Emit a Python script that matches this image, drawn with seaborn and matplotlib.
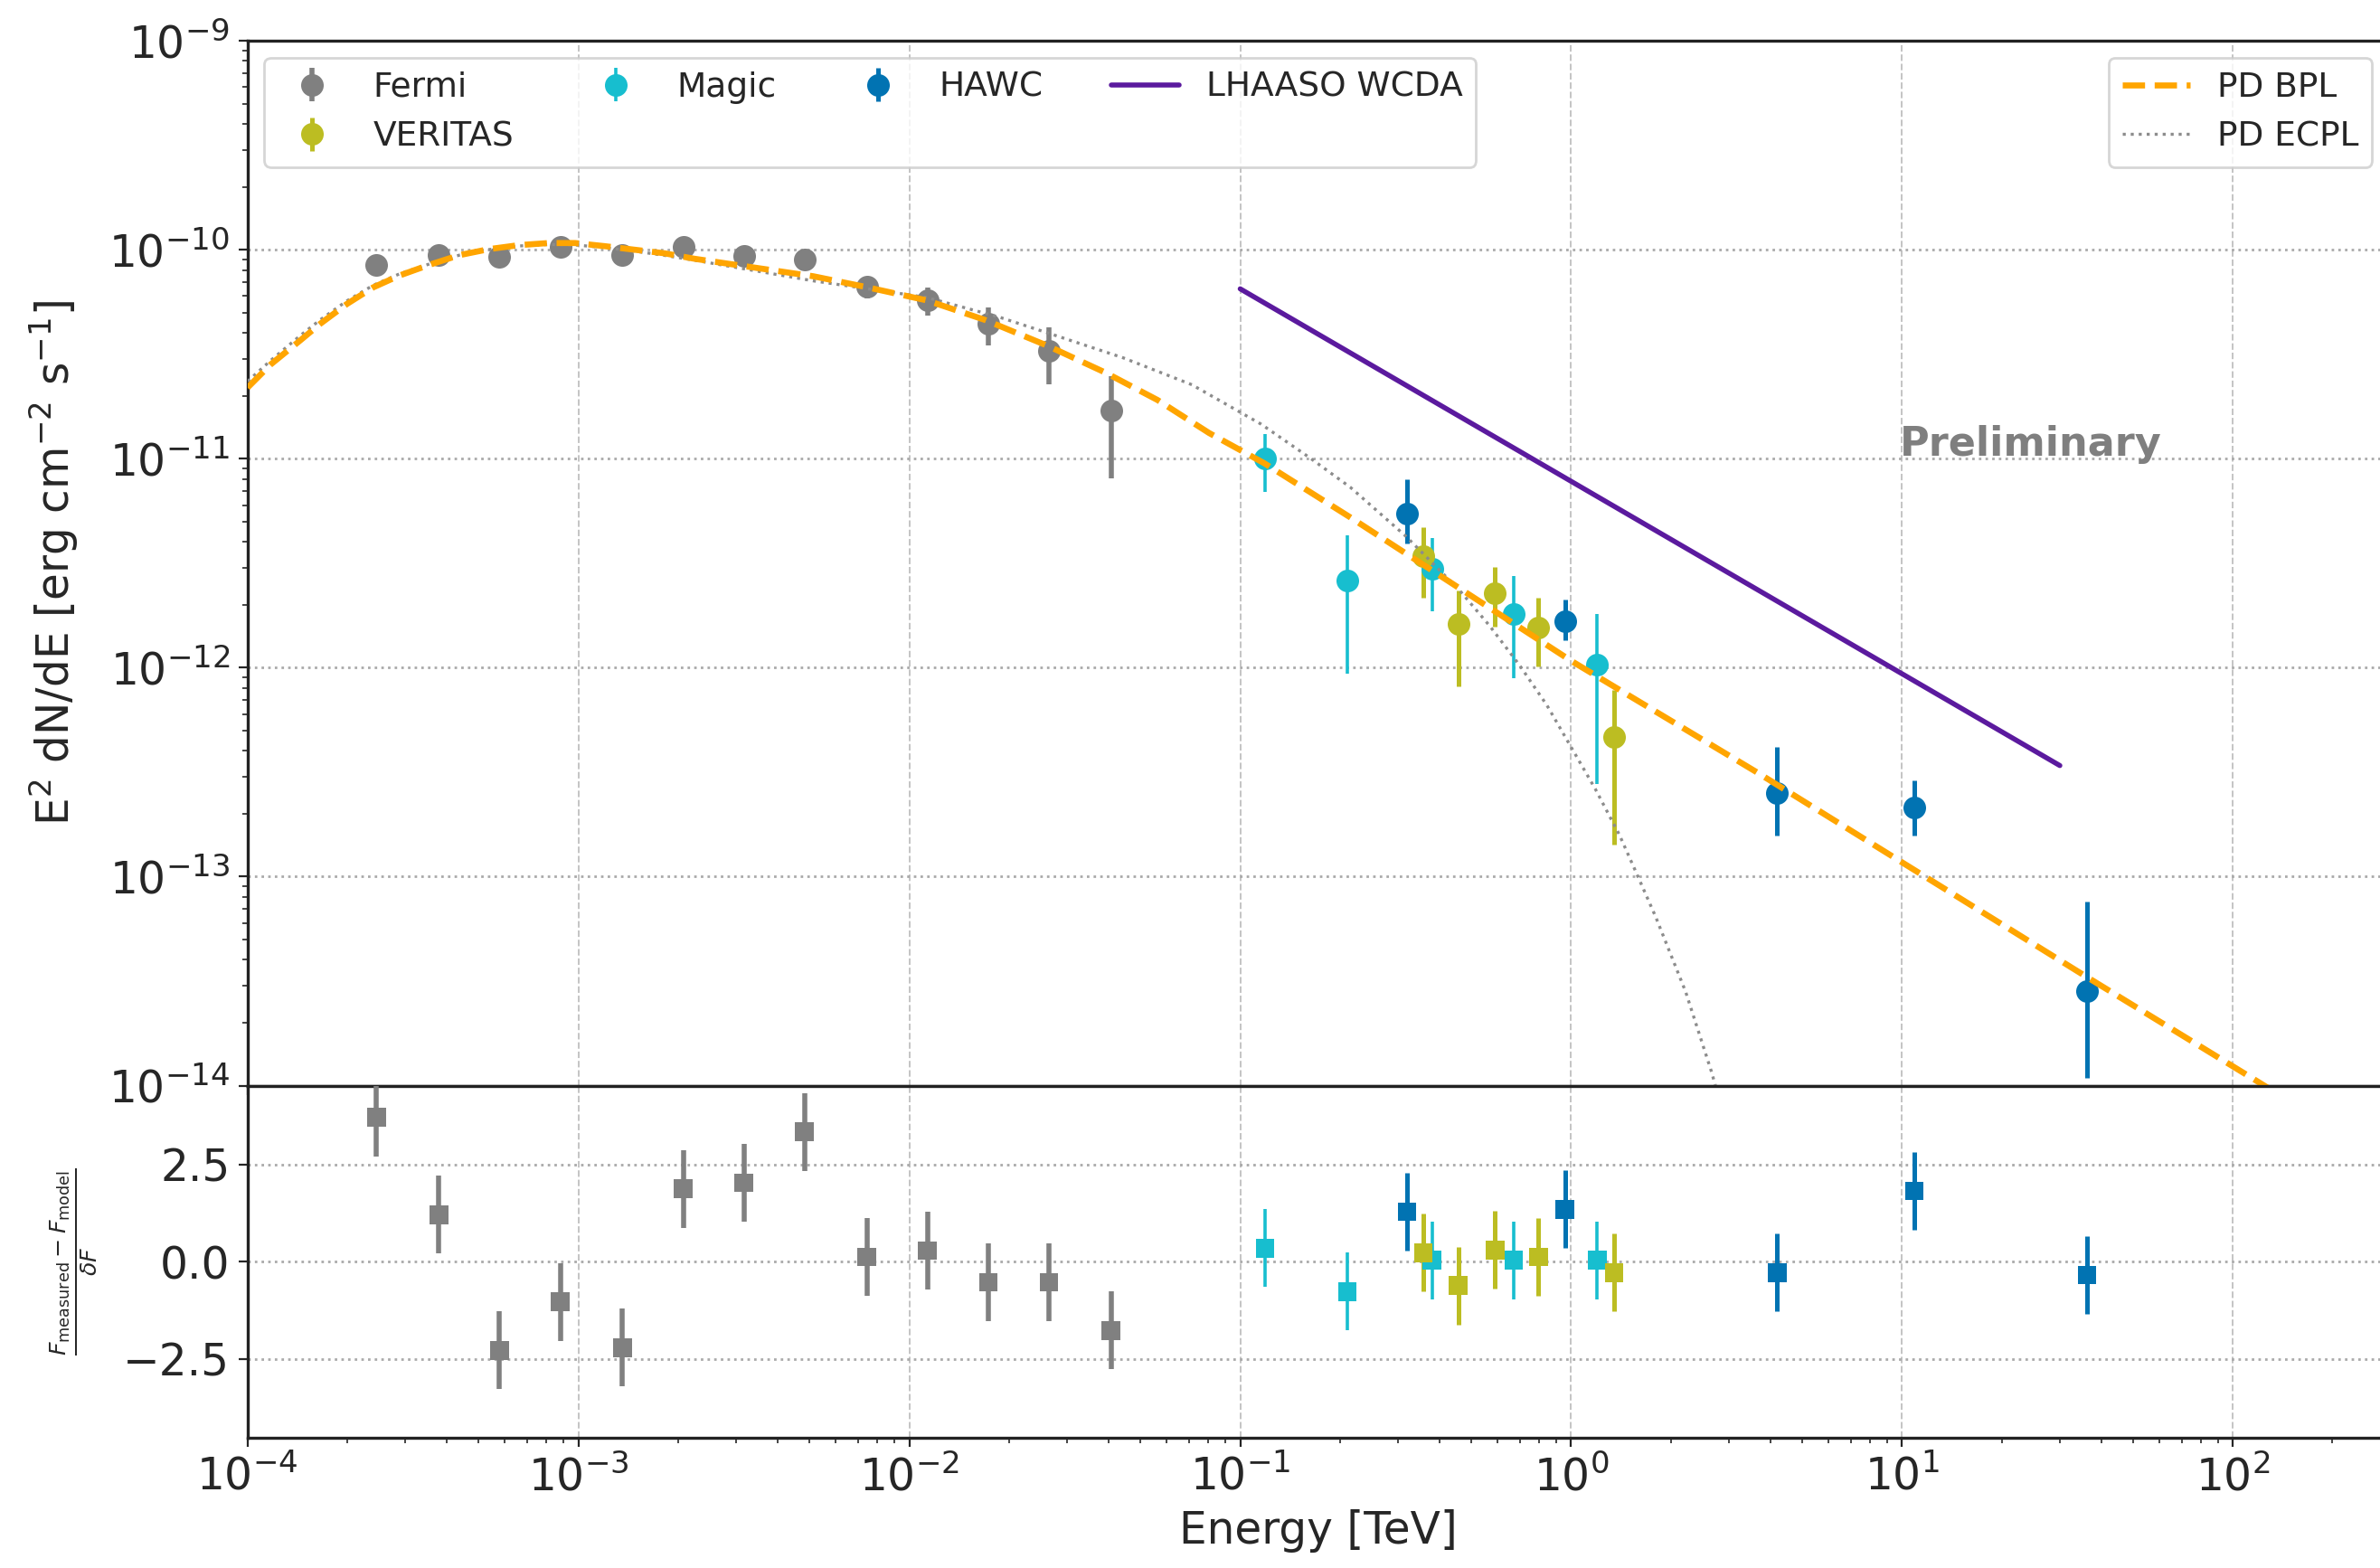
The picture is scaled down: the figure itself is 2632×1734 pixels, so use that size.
import numpy as np
import pandas as pd
import matplotlib
matplotlib.use("Agg")
import matplotlib.pyplot as plt
from matplotlib.lines import Line2D
import seaborn as sns

# ---------------- data ----------------
fermi_E = [2.455e-4, 3.785e-4, 5.77e-4, 8.81e-4, 1.358e-3, 2.075e-3, 3.16e-3,
           4.82e-3, 7.45e-3, 1.135e-2, 1.734e-2, 2.64e-2, 4.07e-2]
fermi_F = [8.45e-11, 9.48e-11, 9.23e-11, 1.037e-10, 9.48e-11, 1.037e-10, 9.33e-11,
           9.02e-11, 6.65e-11, 5.75e-11, 4.42e-11, 3.27e-11, 1.70e-11]
fermi_lo = [8.1e-11, 9.1e-11, 8.9e-11, 1.0e-10, 9.15e-11, 1.0e-10, 9.0e-11,
            8.7e-11, 5.86e-11, 4.85e-11, 3.5e-11, 2.27e-11, 8.07e-12]
fermi_hi = [8.8e-11, 9.85e-11, 9.55e-11, 1.075e-10, 9.8e-11, 1.075e-10, 9.65e-11,
            9.35e-11, 7.4e-11, 6.58e-11, 5.3e-11, 4.26e-11, 2.48e-11]

magic_E = [0.119, 0.211, 0.380, 0.671, 1.20]
magic_F = [1.0e-11, 2.61e-12, 2.98e-12, 1.81e-12, 1.035e-12]
magic_lo = [6.93e-12, 9.35e-13, 1.86e-12, 8.9e-13, 2.77e-13]
magic_hi = [1.31e-11, 4.28e-12, 4.18e-12, 2.74e-12, 1.81e-12]

veritas_E = [0.358, 0.456, 0.589, 0.797, 1.348]
veritas_F = [3.41e-12, 1.62e-12, 2.28e-12, 1.56e-12, 4.65e-13]
veritas_lo = [2.16e-12, 8.1e-13, 1.57e-12, 1.01e-12, 1.42e-13]
veritas_hi = [4.68e-12, 2.33e-12, 3.03e-12, 2.16e-12, 7.8e-13]

hawc_E = [0.319, 0.958, 4.20, 10.9, 36.2]
hawc_F = [5.44e-12, 1.66e-12, 2.51e-13, 2.15e-13, 2.83e-14]
hawc_lo = [3.92e-12, 1.35e-12, 1.57e-13, 1.57e-13, 1.09e-14]
hawc_hi = [7.96e-12, 2.11e-12, 4.16e-13, 2.88e-13, 7.6e-14]

lhaaso_E = [0.1, 30.0]
lhaaso_F = [6.5e-11, 3.4e-13]

# model curves as log10(E/TeV), log10(E^2 dN/dE)
bpl_logE = [-4.0, -3.93, -3.84, -3.78, -3.70, -3.62, -3.54, -3.45, -3.36, -3.27,
            -3.18, -3.09, -3.01, -2.92, -2.83, -2.74, -2.65, -2.29, -2.135, -1.948,
            -1.771, -1.583, -1.406, -1.25, -1.094, -0.927, -0.667, 0.0, 0.565,
            1.548, 2.061, 2.472]
bpl_logF = [-10.66, -10.549, -10.433, -10.354, -10.26, -10.18, -10.123, -10.072, -10.026, -9.997,
            -9.978, -9.968, -9.968, -9.983, -10.0, -10.017, -10.043, -10.127, -10.177, -10.242,
            -10.336, -10.459, -10.589, -10.719, -10.877, -11.022, -11.281, -11.967, -12.504,
            -13.47, -13.967, -14.37]

ecpl_logE = [-4.0, -3.93, -3.84, -3.78, -3.70, -3.62, -3.54, -3.45, -3.36, -3.27,
             -3.18, -3.09, -3.01, -2.92, -2.83, -2.74, -2.65, -2.29, -1.948, -1.729,
             -1.5625, -1.354, -1.146, -0.9375, -0.792, -0.667, -0.5, -0.337, -0.246,
             -0.155, -0.073, 0.0, 0.073, 0.146, 0.191, 0.255, 0.346, 0.4235, 0.5]
ecpl_logF = [-10.63, -10.53, -10.41, -10.335, -10.245, -10.17, -10.115, -10.068, -10.026, -9.999,
             -9.982, -9.975, -9.977, -9.99, -10.007, -10.027, -10.05, -10.149, -10.228, -10.322,
             -10.408, -10.517, -10.646, -10.834, -10.993, -11.137, -11.37, -11.63, -11.80,
             -11.99, -12.18, -12.38, -12.58, -12.80, -12.96, -13.19, -13.55, -13.93, -14.35]

fermi_res = [3.71, 1.21, -2.28, -1.03, -2.21, 1.875, 2.03, 3.34, 0.12, 0.29, -0.53, -0.53, -1.77]
magic_res = [0.35, -0.77, 0.04, 0.04, 0.04]
veritas_res = [0.23, -0.61, 0.30, 0.125, -0.28]
hawc_res = [1.29, 1.35, -0.28, 1.82, -0.34]
res_err = 1.0

# ---------------- styling ----------------
sns.set_style("ticks")
plt.rcParams['font.family'] = ['DejaVu Sans']
plt.rcParams['mathtext.fontset'] = 'dejavusans'

C_FERMI = '#808080'
C_MAGIC = '#17becf'
C_VERITAS = '#bcbd22'
C_HAWC = '#0173b2'
C_LHAASO = '#5b1a9e'
C_BPL = '#ffa500'
C_ECPL = '#8c8c8c'

FS = 17.5
LFS = 13.5

fig = plt.figure(figsize=(13.16, 8.67), dpi=200)
gs = fig.add_gridspec(2, 1, height_ratios=[2.966, 1], hspace=0,
                      left=0.104, right=1.0038, top=0.974, bottom=0.083)
ax1 = fig.add_subplot(gs[0])
ax2 = fig.add_subplot(gs[1], sharex=ax1)

for ax in (ax1, ax2):
    for sp in ax.spines.values():
        sp.set_color('#222222')
        sp.set_linewidth(1.2)

ax1.set_xscale('log')
ax1.set_yscale('log')

# data points with error bars
def pts(E, F, lo, hi, color, label, elw=1.8):
    E = np.array(E); F = np.array(F); lo = np.array(lo); hi = np.array(hi)
    return ax1.errorbar(E, F, yerr=[F - lo, hi - F], fmt='o', color=color, ms=8,
                        mec=color, elinewidth=elw, capsize=0, zorder=3, label=label)

h_fermi = pts(fermi_E, fermi_F, fermi_lo, fermi_hi, C_FERMI, 'Fermi', 2.0)
h_magic = pts(magic_E, magic_F, magic_lo, magic_hi, C_MAGIC, 'Magic', 1.3)
h_ver = pts(veritas_E, veritas_F, veritas_lo, veritas_hi, C_VERITAS, 'VERITAS', 1.8)
h_hawc = pts(hawc_E, hawc_F, hawc_lo, hawc_hi, C_HAWC, 'HAWC', 1.8)

# model curves and LHAASO line via seaborn
lh = pd.DataFrame({'E': lhaaso_E, 'F': lhaaso_F})
sns.lineplot(data=lh, x='E', y='F', ax=ax1, color=C_LHAASO, lw=2.0, zorder=4, legend=False)

bpl = pd.DataFrame({'E': 10.0 ** np.array(bpl_logE), 'F': 10.0 ** np.array(bpl_logF)})
sns.lineplot(data=bpl, x='E', y='F', ax=ax1, color=C_BPL, lw=2.4, linestyle='--',
             zorder=5, legend=False)
ecpl = pd.DataFrame({'E': 10.0 ** np.array(ecpl_logE), 'F': 10.0 ** np.array(ecpl_logF)})
sns.lineplot(data=ecpl, x='E', y='F', ax=ax1, color=C_ECPL, lw=1.2, linestyle=':',
             zorder=4, legend=False)

ax1.set_xlim(1e-4, 10 ** 2.472)
ax1.set_ylim(1e-14, 1e-9)
ax1.set_ylabel(r'E$^2$ dN/dE [erg cm$^{-2}$ s$^{-1}$]', fontsize=FS, labelpad=11)
ax1.set_xlabel('')
ax1.tick_params(axis='both', labelsize=FS)
ax1.tick_params(axis='x', labelbottom=False)
ax1.grid(True, which='major', axis='y', linestyle=':', color='#aaaaaa', lw=1.0)
ax1.grid(True, which='major', axis='x', linestyle='--', color='#c4c4c4', lw=0.7)

ax1.text(24.5, 1.17e-11, 'Preliminary', color='#7f7f7f', fontsize=16,
         fontweight='bold', ha='center', va='center')

leg1 = ax1.legend(handles=[h_fermi, h_ver, h_magic, h_hawc,
                           Line2D([], [], color=C_LHAASO, lw=2.0)],
                  labels=['Fermi', 'VERITAS', 'Magic', 'HAWC', 'LHAASO WCDA'],
                  ncol=4, loc='upper left', fontsize=LFS, frameon=True,
                  fancybox=True, framealpha=0.8, edgecolor='0.8')
ax1.add_artist(leg1)
ax1.legend(handles=[Line2D([], [], color=C_BPL, lw=2.4, ls='--'),
                    Line2D([], [], color=C_ECPL, lw=1.2, ls=':')],
           labels=['PD BPL', 'PD ECPL'], loc='upper right', fontsize=LFS,
           frameon=True, fancybox=True, framealpha=0.8, edgecolor='0.8')

# residuals
def res(E, R, color, elw=1.8):
    ax2.errorbar(E, R, yerr=res_err, fmt='none', ecolor=color, elinewidth=elw,
                 capsize=0, zorder=3)
    sns.scatterplot(x=E, y=R, ax=ax2, color=color, marker='s', s=55,
                    edgecolor='none', zorder=4, legend=False)

res(fermi_E, fermi_res, C_FERMI, 2.0)
res(magic_E, magic_res, C_MAGIC, 1.3)
res(veritas_E, veritas_res, C_VERITAS, 1.8)
res(hawc_E, hawc_res, C_HAWC, 1.8)

ax2.set_xscale('log')
ax2.set_xlim(1e-4, 10 ** 2.472)
ax2.set_ylim(-4.53, 4.53)
ax2.set_yticks([-2.5, 0.0, 2.5])
ax2.set_yticklabels(['\u22122.5', '0.0', '2.5'])
ax2.tick_params(axis='both', labelsize=FS)
ax2.grid(True, which='major', axis='y', linestyle=':', color='#aaaaaa', lw=1.0)
ax2.grid(True, which='major', axis='x', linestyle='--', color='#c4c4c4', lw=0.7)
ax2.set_xlabel('Energy [TeV]', fontsize=FS)
ax2.set_ylabel(r'$\frac{F_{\rm measured}-F_{\rm model}}{\delta F}$', fontsize=13)

fig.align_ylabels([ax1, ax2])
fig.savefig('out.png', dpi=200)
